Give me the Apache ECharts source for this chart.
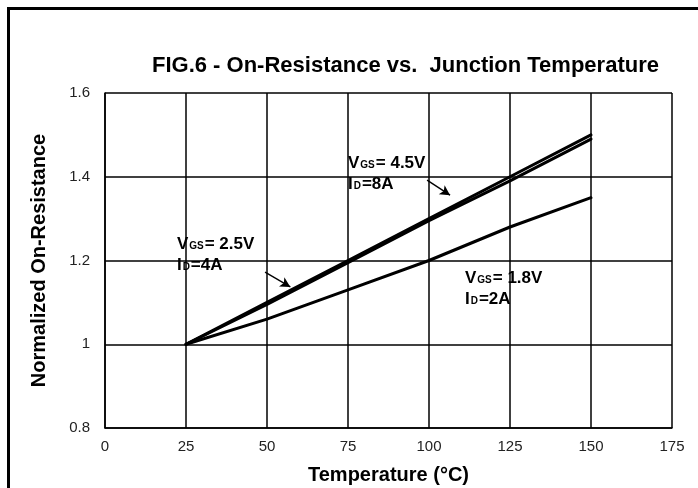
<!DOCTYPE html>
<html>
<head>
<meta charset="utf-8">
<script src="https://cdn.jsdelivr.net/npm/echarts@6/dist/echarts.min.js"></script>
<style>
  html, body { margin: 0; padding: 0; background: #fff; }
  #chart { width: 698px; height: 488px; }
</style>
</head>
<body>
<div id="chart"></div>
<script>
var temps = [25, 50, 75, 100, 125, 150];
var vgs45 = [1.0, 1.1, 1.2, 1.3, 1.4, 1.5];
var vgs25 = [1.0, 1.095, 1.195, 1.295, 1.39, 1.49];
var vgs18 = [1.0, 1.06, 1.13, 1.2, 1.28, 1.35];

// arrow start / end in data units
var arrow25 = [[49.4, 1.172], [57.2, 1.137]];
var arrow45 = [[99.4, 1.392], [106.5, 1.356]];

// label anchors: [left x, first line centre y] in data units
var notes = [
    { vgs: '2.5V', id: '4A', at: [22.2, 1.239] },
    { vgs: '4.5V', id: '8A', at: [75, 1.433] },
    { vgs: '1.8V', id: '2A', at: [111.1, 1.158] }
];

var FONT = '"Liberation Sans", Arial, sans-serif';

function pairs(ys) {
    var out = [];
    for (var i = 0; i < temps.length; i++) {
        out.push([temps[i], ys[i]]);
    }
    return out;
}

function curve(name, ys, arrow) {
    var s = {
        name: name,
        type: 'line',
        data: pairs(ys),
        symbol: 'none',
        lineStyle: { color: '#000', width: 3, cap: 'round' },
        silent: true
    };
    if (arrow) {
        s.markLine = {
            silent: true,
            symbol: ['none', 'arrow'],
            symbolSize: [8, 10],
            label: { show: false },
            lineStyle: { color: '#000', width: 1.4, type: 'solid' },
            data: [[{ coord: arrow[0] }, { coord: arrow[1] }]]
        };
    }
    return s;
}

var myChart = echarts.init(document.getElementById('chart'));

var option = {
    animation: false,
    backgroundColor: '#fff',
    title: {
        text: 'FIG.6 - On-Resistance vs.  Junction Temperature',
        left: 147,
        top: 50,
        textStyle: { fontFamily: FONT, fontSize: 22, fontWeight: 'bold', color: '#000' }
    },
    grid: { left: 105, top: 93, width: 567, height: 335, outerBoundsMode: 'none' },
    xAxis: {
        type: 'value',
        min: 0,
        max: 175,
        interval: 25,
        name: 'Temperature (°C)',
        nameLocation: 'middle',
        nameGap: 37,
        nameTextStyle: { fontFamily: FONT, fontSize: 20, fontWeight: 'bold', color: '#000' },
        axisLine: { lineStyle: { color: '#000', width: 1.5 } },
        axisTick: { show: false },
        axisLabel: { fontFamily: FONT, fontSize: 15, color: '#222', margin: 11 },
        splitLine: { show: true, lineStyle: { color: '#000', width: 1.5 } }
    },
    yAxis: {
        type: 'value',
        min: 0.8,
        max: 1.6,
        interval: 0.2,
        name: 'Normalized On-Resistance',
        nameLocation: 'middle',
        nameGap: 56,
        nameTextStyle: { fontFamily: FONT, fontSize: 20, fontWeight: 'bold', color: '#000' },
        axisLine: { show: true, lineStyle: { color: '#000', width: 1.5 } },
        axisTick: { show: false },
        axisLabel: { fontFamily: FONT, fontSize: 15, color: '#222', margin: 15 },
        splitLine: { show: true, lineStyle: { color: '#000', width: 1.5 } }
    },
    series: [
        curve('VGS=1.8V', vgs18, null),
        curve('VGS=2.5V', vgs25, arrow25),
        curve('VGS=4.5V', vgs45, arrow45)
    ]
};

myChart.setOption(option);

// place the annotation texts through the axis scales
var graphics = [{
    type: 'rect',
    shape: { x: 8.5, y: 8.5, width: 1000, height: 1000 },
    style: { fill: 'none', stroke: '#000', lineWidth: 3 },
    silent: true
}];

var LH = 21;
notes.forEach(function (n) {
    var p = myChart.convertToPixel({ gridIndex: 0 }, n.at);
    graphics.push({
        type: 'text',
        x: p[0],
        y: p[1] - LH / 2,
        silent: true,
        style: {
            text: '{a|V}{s|GS}{a|= ' + n.vgs + '}\n{a|I}{s|D}{a|=' + n.id + '}',
            verticalAlign: 'top',
            align: 'left',
            rich: {
                a: { fontFamily: FONT, fontSize: 17, fontWeight: 'bold', fill: '#000', lineHeight: LH },
                s: { fontFamily: FONT, fontSize: 10, fontWeight: 'bold', fill: '#000', lineHeight: LH, verticalAlign: 'bottom', padding: [0, 1, 3, 1] }
            }
        }
    });
});

myChart.setOption({ graphic: graphics });
</script>
</body>
</html>
